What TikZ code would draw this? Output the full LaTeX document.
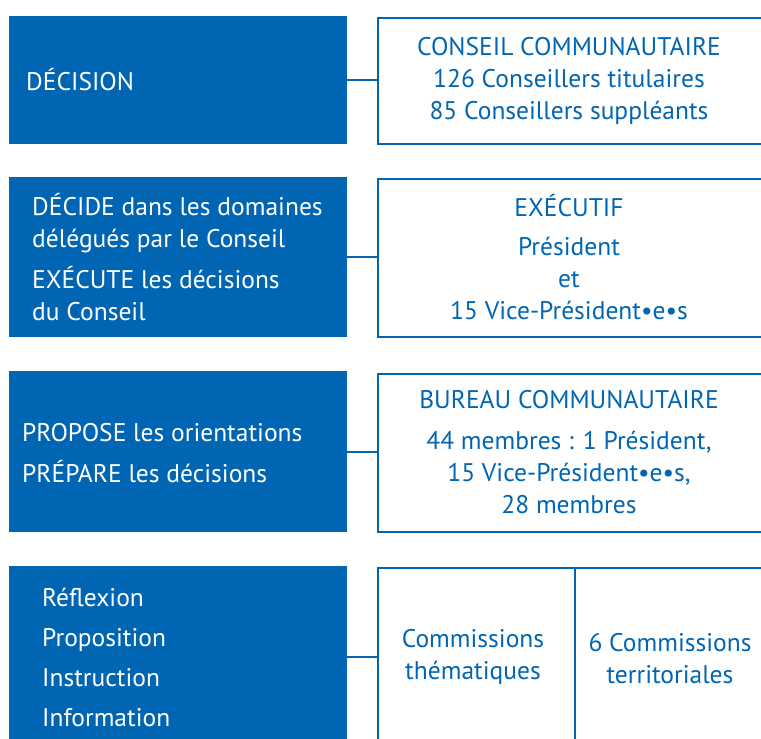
\documentclass[tikz,border=0pt]{standalone}
\usepackage{fontspec}
\setmainfont{PT Sans}
\usepackage{xcolor}
\definecolor{ccblue}{HTML}{0066B3}

\begin{document}
\begin{tikzpicture}[x=1pt,y=-1pt,
    leftbox/.style={fill=ccblue,inner sep=0pt,anchor=north west},
    rightbox/.style={draw=ccblue,line width=2.2pt,fill=white,inner sep=0pt,anchor=north west},
    lefttxt/.style={white,anchor=west,align=left,inner sep=0pt,font=\fontsize{25.5}{32}\selectfont},
    righttxt/.style={ccblue,align=center,inner sep=0pt,font=\fontsize{25.5}{32}\selectfont},
    link/.style={draw=ccblue,line width=2.2pt}]
    \useasboundingbox (0,0) rectangle (761,739);
    \clip (0,0) rectangle (761,739);
    % left column
    \node[leftbox,minimum width=338pt,minimum height=128pt] (dec) at (9,16) {};
    \node[leftbox,minimum width=338pt,minimum height=160pt] (exe) at (9,177) {};
    \node[leftbox,minimum width=338pt,minimum height=161pt] (bur) at (9,371) {};
    \node[leftbox,minimum width=338pt,minimum height=182pt] (com) at (9,566) {};
    % right column
    \node[rightbox,minimum width=420pt,minimum height=126pt] (conseil) at (377,17) {};
    \node[rightbox,minimum width=420pt,minimum height=158pt] (executif) at (377,178) {};
    \node[rightbox,minimum width=420pt,minimum height=158pt] (bureau) at (377,373) {};
    \node[rightbox,minimum width=197pt,minimum height=180pt] (comthem) at (377,567) {};
    \node[rightbox,minimum width=220pt,minimum height=180pt] (comterr) at (574,567) {};
    % links
    \draw[link] (dec.east) -- (dec.east -| conseil.west);
    \draw[link] (exe.east) -- (exe.east -| executif.west);
    \draw[link] (bur.east) -- (bur.east -| bureau.west);
    \draw[link] (com.east) -- (com.east -| comthem.west);
    % texts, left
    \node[lefttxt] (t1) at (26,80) {DÉCISION};
    \node[lefttxt] (t2a) at (32,223) {DÉCIDE dans les domaines\\délégués par le Conseil};
    \node[lefttxt] (t2b) at (32,294) {EXÉCUTE les décisions\\du Conseil};
    \node[lefttxt] (t3a) at (22,433) {PROPOSE les orientations};
    \node[lefttxt] (t3b) at (22,472) {PRÉPARE les décisions};
    \node[lefttxt,font=\fontsize{25.5}{40}\selectfont] (t4) at (42,657) {Réflexion\\Proposition\\Instruction\\Information};
    % texts, right
    \node[righttxt] (r1) at (569,81) {CONSEIL COMMUNAUTAIRE\\126 Conseillers titulaires\\85 Conseillers suppléants};
    \node[righttxt] (r2a) at (569,206) {EXÉCUTIF};
    \node[righttxt] (r2b) at (569,278) {Président\\et\\15 Vice-Président•e•s};
    \node[righttxt] (r3a) at (569,400) {BUREAU COMMUNAUTAIRE};
    \node[righttxt] (r3b) at (569,472) {44 membres : 1 Président,\\15 Vice-Président•e•s,\\28 membres};
    \node[righttxt] (r4a) at (473,657) {Commissions\\thématiques};
    \node[righttxt] (r4b) at (670,659) {6 Commissions\\territoriales};
\end{tikzpicture}
\end{document}
